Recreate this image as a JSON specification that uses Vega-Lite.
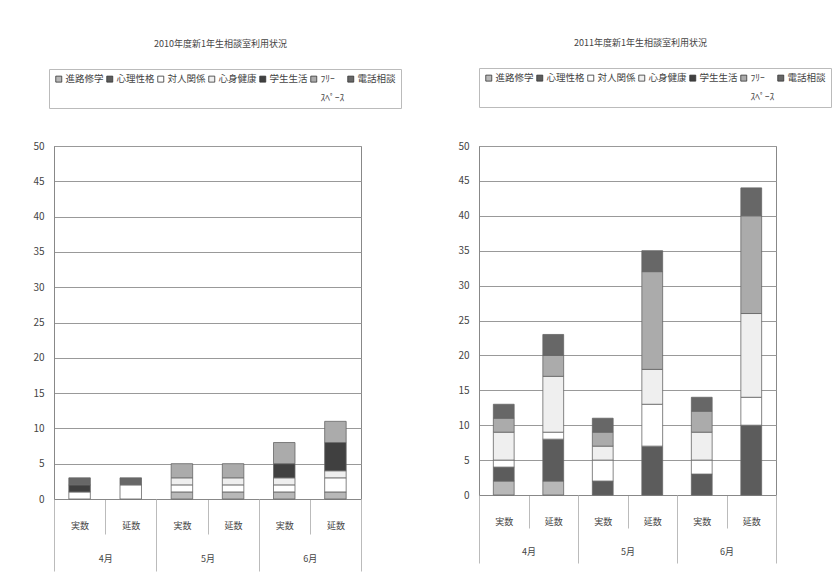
{
  "$schema": "https://vega.github.io/schema/vega-lite/v6.json",
  "background": "white",
  "padding": {"left": 32, "top": 38, "right": 0, "bottom": 5},
  "datasets": {
    "cats": [
      {"cat": "進路修学", "ord": 1},
      {"cat": "心理性格", "ord": 2},
      {"cat": "対人関係", "ord": 3},
      {"cat": "心身健康", "ord": 4},
      {"cat": "学生生活", "ord": 5},
      {"cat": "ﾌﾘｰｽﾍﾟｰｽ", "ord": 6},
      {"cat": "電話相談", "ord": 7}
    ],
    "d": [
      {"year": 2010, "month": "4月", "bar": "4月実数", "cat": "対人関係", "value": 1},
      {"year": 2010, "month": "4月", "bar": "4月実数", "cat": "学生生活", "value": 1},
      {"year": 2010, "month": "4月", "bar": "4月実数", "cat": "電話相談", "value": 1},
      {"year": 2010, "month": "4月", "bar": "4月延数", "cat": "対人関係", "value": 2},
      {"year": 2010, "month": "4月", "bar": "4月延数", "cat": "電話相談", "value": 1},
      {"year": 2010, "month": "5月", "bar": "5月実数", "cat": "進路修学", "value": 1},
      {"year": 2010, "month": "5月", "bar": "5月実数", "cat": "対人関係", "value": 1},
      {"year": 2010, "month": "5月", "bar": "5月実数", "cat": "心身健康", "value": 1},
      {"year": 2010, "month": "5月", "bar": "5月実数", "cat": "ﾌﾘｰｽﾍﾟｰｽ", "value": 2},
      {"year": 2010, "month": "5月", "bar": "5月延数", "cat": "進路修学", "value": 1},
      {"year": 2010, "month": "5月", "bar": "5月延数", "cat": "対人関係", "value": 1},
      {"year": 2010, "month": "5月", "bar": "5月延数", "cat": "心身健康", "value": 1},
      {"year": 2010, "month": "5月", "bar": "5月延数", "cat": "ﾌﾘｰｽﾍﾟｰｽ", "value": 2},
      {"year": 2010, "month": "6月", "bar": "6月実数", "cat": "進路修学", "value": 1},
      {"year": 2010, "month": "6月", "bar": "6月実数", "cat": "対人関係", "value": 1},
      {"year": 2010, "month": "6月", "bar": "6月実数", "cat": "心身健康", "value": 1},
      {"year": 2010, "month": "6月", "bar": "6月実数", "cat": "学生生活", "value": 2},
      {"year": 2010, "month": "6月", "bar": "6月実数", "cat": "ﾌﾘｰｽﾍﾟｰｽ", "value": 3},
      {"year": 2010, "month": "6月", "bar": "6月延数", "cat": "進路修学", "value": 1},
      {"year": 2010, "month": "6月", "bar": "6月延数", "cat": "対人関係", "value": 2},
      {"year": 2010, "month": "6月", "bar": "6月延数", "cat": "心身健康", "value": 1},
      {"year": 2010, "month": "6月", "bar": "6月延数", "cat": "学生生活", "value": 4},
      {"year": 2010, "month": "6月", "bar": "6月延数", "cat": "ﾌﾘｰｽﾍﾟｰｽ", "value": 3},
      {"year": 2011, "month": "4月", "bar": "4月実数", "cat": "進路修学", "value": 2},
      {"year": 2011, "month": "4月", "bar": "4月実数", "cat": "心理性格", "value": 2},
      {"year": 2011, "month": "4月", "bar": "4月実数", "cat": "対人関係", "value": 1},
      {"year": 2011, "month": "4月", "bar": "4月実数", "cat": "心身健康", "value": 4},
      {"year": 2011, "month": "4月", "bar": "4月実数", "cat": "ﾌﾘｰｽﾍﾟｰｽ", "value": 2},
      {"year": 2011, "month": "4月", "bar": "4月実数", "cat": "電話相談", "value": 2},
      {"year": 2011, "month": "4月", "bar": "4月延数", "cat": "進路修学", "value": 2},
      {"year": 2011, "month": "4月", "bar": "4月延数", "cat": "心理性格", "value": 6},
      {"year": 2011, "month": "4月", "bar": "4月延数", "cat": "対人関係", "value": 1},
      {"year": 2011, "month": "4月", "bar": "4月延数", "cat": "心身健康", "value": 8},
      {"year": 2011, "month": "4月", "bar": "4月延数", "cat": "ﾌﾘｰｽﾍﾟｰｽ", "value": 3},
      {"year": 2011, "month": "4月", "bar": "4月延数", "cat": "電話相談", "value": 3},
      {"year": 2011, "month": "5月", "bar": "5月実数", "cat": "心理性格", "value": 2},
      {"year": 2011, "month": "5月", "bar": "5月実数", "cat": "対人関係", "value": 3},
      {"year": 2011, "month": "5月", "bar": "5月実数", "cat": "心身健康", "value": 2},
      {"year": 2011, "month": "5月", "bar": "5月実数", "cat": "ﾌﾘｰｽﾍﾟｰｽ", "value": 2},
      {"year": 2011, "month": "5月", "bar": "5月実数", "cat": "電話相談", "value": 2},
      {"year": 2011, "month": "5月", "bar": "5月延数", "cat": "心理性格", "value": 7},
      {"year": 2011, "month": "5月", "bar": "5月延数", "cat": "対人関係", "value": 6},
      {"year": 2011, "month": "5月", "bar": "5月延数", "cat": "心身健康", "value": 5},
      {"year": 2011, "month": "5月", "bar": "5月延数", "cat": "ﾌﾘｰｽﾍﾟｰｽ", "value": 14},
      {"year": 2011, "month": "5月", "bar": "5月延数", "cat": "電話相談", "value": 3},
      {"year": 2011, "month": "6月", "bar": "6月実数", "cat": "心理性格", "value": 3},
      {"year": 2011, "month": "6月", "bar": "6月実数", "cat": "対人関係", "value": 2},
      {"year": 2011, "month": "6月", "bar": "6月実数", "cat": "心身健康", "value": 4},
      {"year": 2011, "month": "6月", "bar": "6月実数", "cat": "ﾌﾘｰｽﾍﾟｰｽ", "value": 3},
      {"year": 2011, "month": "6月", "bar": "6月実数", "cat": "電話相談", "value": 2},
      {"year": 2011, "month": "6月", "bar": "6月延数", "cat": "心理性格", "value": 10},
      {"year": 2011, "month": "6月", "bar": "6月延数", "cat": "対人関係", "value": 4},
      {"year": 2011, "month": "6月", "bar": "6月延数", "cat": "心身健康", "value": 12},
      {"year": 2011, "month": "6月", "bar": "6月延数", "cat": "ﾌﾘｰｽﾍﾟｰｽ", "value": 14},
      {"year": 2011, "month": "6月", "bar": "6月延数", "cat": "電話相談", "value": 4}
    ]
  },
  "config": {
    "font": "Noto Sans CJK JP",
    "view": {"stroke": "#888", "strokeWidth": 1},
    "concat": {"spacing": 55},
    "style": {"guide-label": {"lineHeight": 19}},
    "axis": {"labelFont": "Noto Sans CJK JP", "labelColor": "#444", "domainColor": "#888", "tickColor": "#aaa", "gridColor": "#999"},
    "title": {"font": "Noto Sans CJK JP", "fontSize": 9, "fontWeight": "normal", "color": "#444", "anchor": "middle", "dx": 13},
    "legend": {
      "orient": "none", "direction": "horizontal", "columns": 7, "title": null,
      "symbolType": "square", "symbolSize": 36, "symbolStrokeColor": "#333", "symbolStrokeWidth": 0.8,
      "labelFont": "Noto Sans CJK JP", "labelFontSize": 9.5, "labelColor": "#444", "labelOffset": 2,
      "columnPadding": 1, "padding": 5, "strokeColor": "#bbb", "labelBaseline": "middle"
    }
  },
  "resolve": {"scale": {"color": "independent"}, "legend": {"color": "independent"}},
  "hconcat": [
    {
      "data": {"name": "d"},
      "transform": [
        {"filter": "datum.year == 2010"},
        {"lookup": "cat", "from": {"data": {"name": "cats"}, "key": "cat", "fields": ["ord"]}}
      ],
      "width": 307, "height": 353,
      "title": {"text": "2010年度新1年生相談室利用状況", "offset": 20},
      "resolve": {"scale": {"x": "independent"}, "axis": {"x": "independent"}},
      "layer": [
        {
          "mark": {"type": "bar", "width": {"band": 0.42}, "stroke": "#666", "strokeWidth": 0.8},
          "encoding": {
            "x": {"field": "bar", "type": "nominal",
              "scale": {"domain": ["4月実数", "4月延数", "5月実数", "5月延数", "6月実数", "6月延数"], "paddingInner": 0, "paddingOuter": 0},
              "axis": {"orient": "bottom", "title": null, "labelExpr": "slice(datum.label, 2)", "labelAngle": 0, "labelFontSize": 9, "tickBand": "extent", "tickSize": 35, "tickColor": "#bbb", "labelPadding": -13}},
            "y": {"field": "value", "type": "quantitative", "stack": "zero",
              "scale": {"domain": [0, 50]},
              "axis": {"title": null, "values": [0, 5, 10, 15, 20, 25, 30, 35, 40, 45, 50], "ticks": false, "labelPadding": 10, "labelFontSize": 10, "grid": true}},
            "order": {"field": "ord", "type": "quantitative", "sort": "ascending"},
            "color": {"field": "cat", "type": "nominal",
              "sort": ["進路修学", "心理性格", "対人関係", "心身健康", "学生生活", "ﾌﾘｰｽﾍﾟｰｽ", "電話相談"],
              "scale": {"domain": ["進路修学", "心理性格", "対人関係", "心身健康", "学生生活", "ﾌﾘｰｽﾍﾟｰｽ", "電話相談"],
                        "range": ["#b8b8b8", "#5c5c5c", "#ffffff", "#efefef", "#404040", "#ababab", "#676767"]},
              "legend": {"orient": "none", "legendX": -5, "legendY": -77,
                "labelExpr": "datum.label == 'ﾌﾘｰｽﾍﾟｰｽ' ? ['ﾌﾘｰ', 'ｽﾍﾟｰｽ'] : [datum.label, '']"}}
          }
        },
        {
          "mark": {"type": "point", "opacity": 0},
          "encoding": {
            "x": {"field": "month", "type": "nominal",
              "scale": {"type": "band", "domain": ["4月", "5月", "6月"], "paddingInner": 0, "paddingOuter": 0},
              "axis": {"orient": "bottom", "title": null, "domain": false, "labelAngle": 0, "labelFontSize": 9, "tickBand": "extent", "tickSize": 72, "tickColor": "#bbb", "labelPadding": -17}}
          }
        }
      ]
    },
    {
      "data": {"name": "d"},
      "transform": [
        {"filter": "datum.year == 2011"},
        {"lookup": "cat", "from": {"data": {"name": "cats"}, "key": "cat", "fields": ["ord"]}}
      ],
      "width": 297, "height": 349,
      "title": {"text": "2011年度新1年生相談室利用状況", "offset": 20},
      "resolve": {"scale": {"x": "independent"}, "axis": {"x": "independent"}},
      "layer": [
        {
          "mark": {"type": "bar", "width": {"band": 0.42}, "stroke": "#666", "strokeWidth": 0.8},
          "encoding": {
            "x": {"field": "bar", "type": "nominal",
              "scale": {"domain": ["4月実数", "4月延数", "5月実数", "5月延数", "6月実数", "6月延数"], "paddingInner": 0, "paddingOuter": 0},
              "axis": {"orient": "bottom", "title": null, "labelExpr": "slice(datum.label, 2)", "labelAngle": 0, "labelFontSize": 9, "tickBand": "extent", "tickSize": 33, "tickColor": "#bbb", "labelPadding": -11}},
            "y": {"field": "value", "type": "quantitative", "stack": "zero",
              "scale": {"domain": [0, 50]},
              "axis": {"title": null, "values": [0, 5, 10, 15, 20, 25, 30, 35, 40, 45, 50], "ticks": false, "labelPadding": 10, "labelFontSize": 10, "grid": true}},
            "order": {"field": "ord", "type": "quantitative", "sort": "ascending"},
            "color": {"field": "cat", "type": "nominal",
              "sort": ["進路修学", "心理性格", "対人関係", "心身健康", "学生生活", "ﾌﾘｰｽﾍﾟｰｽ", "電話相談"],
              "scale": {"domain": ["進路修学", "心理性格", "対人関係", "心身健康", "学生生活", "ﾌﾘｰｽﾍﾟｰｽ", "電話相談"],
                        "range": ["#b8b8b8", "#5c5c5c", "#ffffff", "#efefef", "#404040", "#ababab", "#676767"]},
              "legend": {"orient": "none", "legendX": 0, "legendY": -78,
                "labelExpr": "datum.label == 'ﾌﾘｰｽﾍﾟｰｽ' ? ['ﾌﾘｰ', 'ｽﾍﾟｰｽ'] : [datum.label, '']"}}
          }
        },
        {
          "mark": {"type": "point", "opacity": 0},
          "encoding": {
            "x": {"field": "month", "type": "nominal",
              "scale": {"type": "band", "domain": ["4月", "5月", "6月"], "paddingInner": 0, "paddingOuter": 0},
              "axis": {"orient": "bottom", "title": null, "domain": false, "labelAngle": 0, "labelFontSize": 9, "tickBand": "extent", "tickSize": 68, "tickColor": "#bbb", "labelPadding": -16}}
          }
        }
      ]
    }
  ]
}
